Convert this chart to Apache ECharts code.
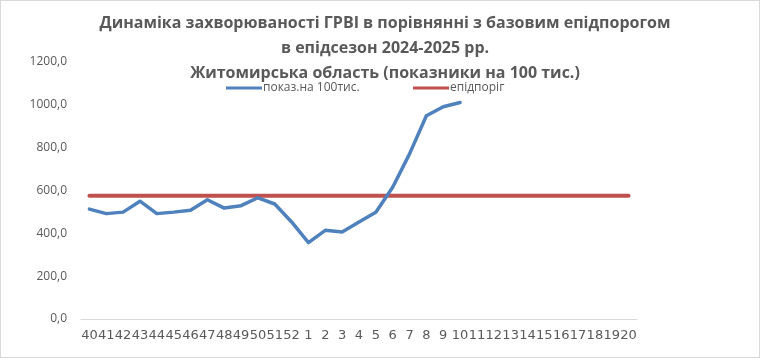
<!DOCTYPE html>
<html><head><meta charset="utf-8">
<script src="https://cdn.jsdelivr.net/npm/echarts@6/dist/echarts.min.js"></script>
<style>
html,body{margin:0;padding:0;background:#fff;}
#c{width:758px;height:356px;border:1px solid #d9d9d9;}
</style></head>
<body><div id="c"></div>
<script>
const weeks = ['40','41','42','43','44','45','46','47','48','49','50','51','52','1','2','3','4','5','6','7','8','9','10','11','12','13','14','15','16','17','18','19','20'];
const incidence = [513,492,499,550,492,499,508,557,518,529,566,537,453,357,414,406,453,498,615,771,949,991,1011];
const threshold = [576,576,576,576,576,576,576,576,576,576,576,576,576,576,576,576,576,576,576,576,576,576,576,576,576,576,576,576,576,576,576,576,576];
const seriesNames = ['показ.на 100тис.','епідпоріг'];
const titleText = 'Динаміка захворюваності ГРВІ в порівнянні з базовим епідпорогом\nв епідсезон 2024-2025 рр.\nЖитомирська область (показники на 100 тис.)';

const chart = echarts.init(document.getElementById('c'), null, {renderer:'canvas'});
const font = 'Open Sans, Liberation Sans, sans-serif';
chart.setOption({
  animation:false,
  textStyle:{fontFamily:font},
  title:{
    text:titleText, left:379, top:5, textAlign:'center',
    textStyle:{fontFamily:font, fontWeight:'bold', fontSize:16, color:'#595959', lineHeight:25}
  },
  legend:[
    {data:[seriesNames[0]], left:225, top:81, padding:0, icon:'rect', itemWidth:36, itemHeight:3, itemGap:2,
     textStyle:{fontFamily:font, fontSize:12, color:'#595959', padding:[0,0,0,-4]}},
    {data:[seriesNames[1]], left:412, top:81, padding:0, icon:'rect', itemWidth:36, itemHeight:3, itemGap:2,
     textStyle:{fontFamily:font, fontSize:12, color:'#595959', padding:[0,0,0,-4]}}
  ],
  grid:{left:80, right:122, top:61, bottom:38, containLabel:false},
  xAxis:{
    type:'category', data:weeks, boundaryGap:true,
    axisLine:{lineStyle:{color:'#d9d9d9', width:1}},
    axisTick:{show:false},
    axisLabel:{interval:0, color:'#595959', fontSize:13, fontFamily:'DejaVu Sans, sans-serif', margin:10}
  },
  yAxis:{
    type:'value', min:0, max:1200, interval:200,
    axisLine:{show:false}, axisTick:{show:false},
    splitLine:{show:false},
    axisLabel:{color:'#595959', fontSize:12, fontFamily:font, margin:14,
      formatter:v=>v.toFixed(1).replace('.',',')}
  },
  series:[
    {name:seriesNames[0], type:'line', data:incidence, showSymbol:false, symbol:'none',
     lineStyle:{color:'#4F81BD', width:3.5, cap:'round', join:'round'}, itemStyle:{color:'#4F81BD'}, z:3},
    {name:seriesNames[1], type:'line', data:threshold, showSymbol:false, symbol:'none',
     lineStyle:{color:'#C0504D', width:4, cap:'round'}, itemStyle:{color:'#C0504D'}, z:2}
  ]
});
</script></body></html>
